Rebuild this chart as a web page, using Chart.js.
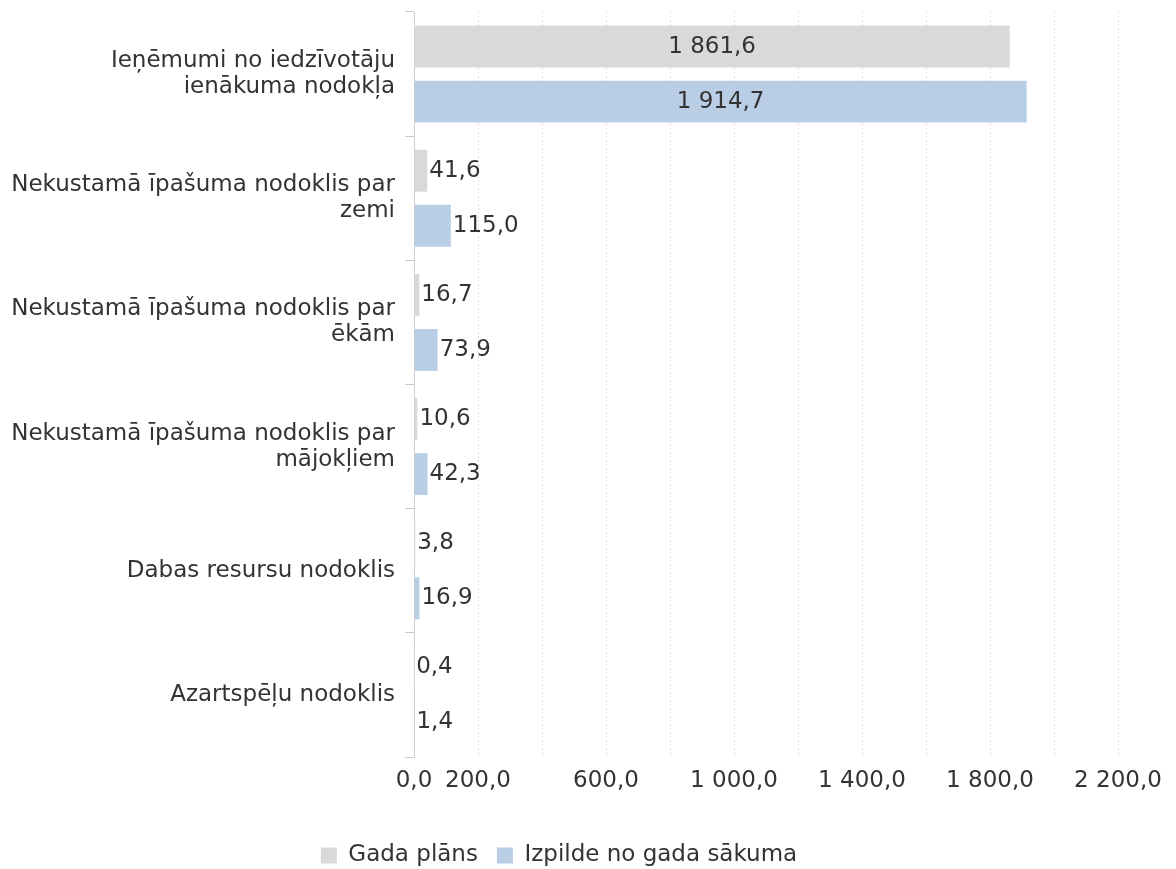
<!DOCTYPE html>
<html>
<head>
<meta charset="utf-8">
<script src="https://cdn.jsdelivr.net/npm/chart.js@4"></script>
<style>
  html, body { margin: 0; padding: 0; background: #fff; }
  #wrap { width: 1176px; height: 869px; }
</style>
</head>
<body>
<div id="wrap"><canvas id="taxChart"></canvas></div>
<script>
const categories = [
    ["Ieņēmumi no iedzīvotāju", "ienākuma nodokļa"],
    ["Nekustamā īpašuma nodoklis par", "zemi"],
    ["Nekustamā īpašuma nodoklis par", "ēkām"],
    ["Nekustamā īpašuma nodoklis par", "mājokļiem"],
    "Dabas resursu nodoklis",
    "Azartspēļu nodoklis"
]
const planValues = [1861.6, 41.6, 16.7, 10.6, 3.8, 0.4]
const actualValues = [1914.7, 115.0, 73.9, 42.3, 16.9, 1.4]
const seriesNames = ["Gada plāns", "Izpilde no gada sākuma"]
const axisMax = 2200
const axisStep = 200

const textCol = "#333333"
const fontFamily = "'DejaVu Sans', Verdana, sans-serif"
const fontSize = 23

// 1 914,7 style numbers
const fmt = (v) => {
    const parts = v.toFixed(1).split(".")
    parts[0] = parts[0].replace(/\B(?=(\d{3})+(?!\d))/g, " ")
    return parts.join(",")
}

const barLabels = {
    id: "barLabels",
    afterDatasetsDraw(chart) {
        const ctx = chart.ctx
        ctx.save()
        ctx.font = fontSize + "px " + fontFamily
        ctx.fillStyle = textCol
        ctx.textBaseline = "middle"
        chart.data.datasets.forEach((ds, i) => {
            chart.getDatasetMeta(i).data.forEach((bar, j) => {
                const txt = fmt(ds.data[j])
                const w = ctx.measureText(txt).width
                const barW = bar.x - bar.base
                if (w + 12 < barW) {
                    ctx.textAlign = "center"
                    ctx.fillText(txt, bar.base + barW / 2, bar.y)
                } else {
                    ctx.textAlign = "left"
                    ctx.fillText(txt, bar.x + 2, bar.y)
                }
            })
        })
        ctx.restore()
    }
}

const ctx = document.getElementById("taxChart").getContext("2d")
const taxChart = new Chart(ctx, {
    type: "bar",
    data: {
        labels: categories,
        datasets: [{
            label: seriesNames[0],
            data: planValues,
            backgroundColor: "#d9d9d9",
            categoryPercentage: 0.887,
            barPercentage: 0.76
        }, {
            label: seriesNames[1],
            data: actualValues,
            backgroundColor: "#b9cde5",
            categoryPercentage: 0.887,
            barPercentage: 0.76
        }]
    },
    options: {
        indexAxis: "y",
        responsive: true,
        maintainAspectRatio: false,
        animation: false,
        layout: {
            padding: { top: 12, right: 58, left: 0, bottom: -8 }
        },
        scales: {
            x: {
                min: 0,
                max: axisMax,
                ticks: {
                    stepSize: axisStep,
                    autoSkip: false,
                    maxRotation: 0,
                    padding: 10,
                    color: textCol,
                    font: { family: fontFamily, size: fontSize },
                    callback: (value, index) => (index === 0 || index % 2 === 1) ? fmt(value) : ""
                },
                grid: {
                    color: "#e0e0e0",
                    drawTicks: false
                },
                border: { display: false, dash: [2, 2] },
                afterFit: (scale) => { scale.height = 68 }
            },
            y: {
                ticks: {
                    padding: 10,
                    color: textCol,
                    font: { family: fontFamily, size: fontSize, lineHeight: 1.13 }
                },
                grid: {
                    drawOnChartArea: false,
                    drawTicks: true,
                    tickLength: 9,
                    color: "#cccccc"
                },
                border: { display: true, color: "#cccccc" },
                afterFit: (scale) => {
                    scale.width = 414
                    scale.paddingTop = 0
                    scale.paddingBottom = 0
                }
            }
        },
        plugins: {
            legend: {
                position: "bottom",
                labels: {
                    boxWidth: 16,
                    boxHeight: 16,
                    padding: 19,
                    color: textCol,
                    font: { family: fontFamily, size: fontSize }
                }
            },
            tooltip: { enabled: false }
        }
    },
    plugins: [barLabels]
})
</script>
</body>
</html>
